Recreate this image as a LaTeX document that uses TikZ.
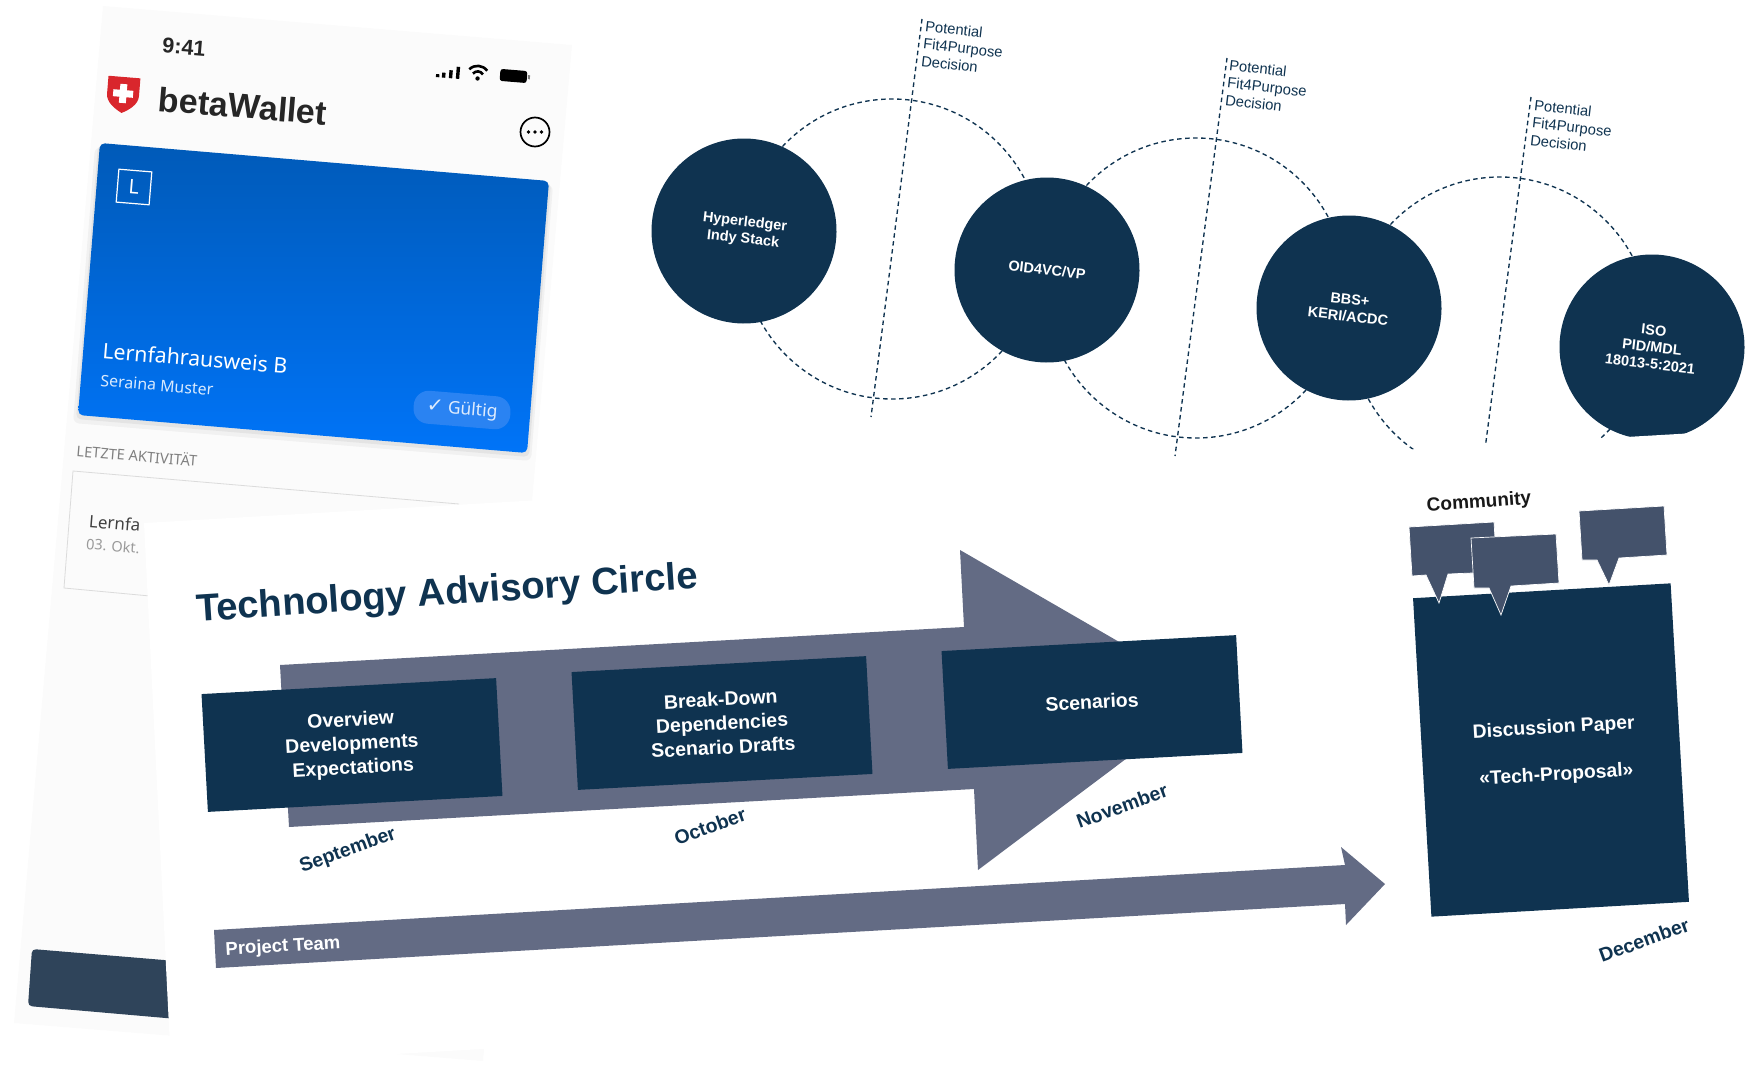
\documentclass[tikz,border=0pt]{standalone}
\usepackage{fontspec}
\usepackage{tikz}
\setmainfont{Liberation Sans}
\newfontfamily\phonefont{Noto Sans}
\newfontfamily\symbolfont{DejaVu Sans}
\usetikzlibrary{shapes,positioning}

\definecolor{tacnavy}{HTML}{0F3350}
\definecolor{tacgrey}{HTML}{636B84}
\definecolor{bubblegrey}{HTML}{44526B}
\definecolor{phonebg}{HTML}{FBFBFB}
\definecolor{buttonblue}{HTML}{2F445A}
\definecolor{cardtop}{HTML}{005AB8}
\definecolor{cardbottom}{HTML}{0074F8}
\definecolor{pillblue}{HTML}{2A83F2}
\definecolor{shieldred}{HTML}{D9262C}

\tikzset{
  stagecircle/.style={circle,fill=tacnavy,text=white,minimum size=185pt,inner sep=0pt,align=center,rotate=-6.5,font=\bfseries\fontsize{14.5}{17}\selectfont},
  fitline/.style={draw=tacnavy,line width=1.35pt,dash pattern=on 4.5pt off 3.5pt},
  fitlabel/.style={text=tacnavy,align=left,rotate=-6.5,inner sep=0pt,font=\fontsize{14.8}{17.6}\selectfont},
  phasebox/.style={fill=tacnavy,text=white,minimum width=295pt,minimum height=118pt,inner sep=0pt,align=center,rotate=3.1,font=\bfseries\fontsize{19.5}{24}\selectfont},
  monthlabel/.style={text=tacnavy,rotate=20,inner sep=0pt,font=\bfseries\fontsize{19.5}{23}\selectfont},
  phonetext/.style={rotate=-4.7,inner sep=0pt,font=\phonefont\fontsize{#1}{#1}\selectfont},
  phonebold/.style={rotate=-4.7,inner sep=0pt,font=\bfseries\fontsize{#1}{#1}\selectfont},
  bubble/.style={fill=bubblegrey,draw=white,line width=0.7pt}
}

\begin{document}
\begin{tikzpicture}[x=1pt,y=-1pt]
\useasboundingbox (0,0) rectangle (1747,1065);

\fill[phonebg] (103,6) -- (572,45) -- (483,1061) -- (14,1023) -- cycle;
\fill[black,opacity=0.04,rounded corners=6pt] (95,147) -- (553,185) -- (531,461) -- (73,423) -- cycle;
\fill[black,opacity=0.05,rounded corners=5pt] (98,145) -- (551,183) -- (529,457) -- (76,419) -- cycle;
\shade[top color=cardtop,bottom color=cardbottom,rounded corners=5pt] (100,143) -- (549,181) -- (527,453) -- (78,415) -- cycle;

\node[phonebold=21.5,text=black!85] (clock) at (184,47) {9:41};
\node[phonebold=34,text=black!85] (wallet) at (243,106) {betaWallet};

\begin{scope}[shift={(123,95)},rotate=-4.7]
\fill[shieldred] (-16,-18) -- (16,-18) -- (16,0) .. controls (16,8) and (8,14) .. (0,18) .. controls (-8,14) and (-16,8) .. (-16,0) -- cycle;
\fill[white] (-3.5,-11) rectangle (3.5,8);
\fill[white] (-10,-5) rectangle (10,2);
\end{scope}

\begin{scope}[shift={(448,72)},rotate=-4.7]
\draw[line width=3.4pt] (-10,6) -- (-10,3);
\draw[line width=3.4pt] (-4,6) -- (-4,1);
\draw[line width=3.4pt] (3,6) -- (3,-2);
\draw[line width=3.4pt] (10,6) -- (10,-6);
\end{scope}
\begin{scope}[shift={(478,73)},rotate=-4.7]
\draw[line width=2.6pt] (-9,-3) .. controls (-4,-8.5) and (4,-8.5) .. (9,-3);
\draw[line width=2.6pt] (-5,1) .. controls (-2,-2.5) and (2,-2.5) .. (5,1);
\fill (0,5.5) circle (2.2);
\end{scope}
\begin{scope}[shift={(514,76)},rotate=-4.7]
\fill[rounded corners=2.5pt] (-14,-6) rectangle (13,6);
\fill[black!50] (14,-2) rectangle (16,2);
\end{scope}

\node[circle,draw=black,line width=1.7pt,minimum size=29pt,inner sep=0pt] (menu) at (535,132) {};
\fill (menu.center) circle (1.8);
\fill ([xshift=-6.5pt]menu.center) circle (1.8);
\fill ([xshift=6.5pt]menu.center) circle (1.8);

\node[rectangle,draw=white,line width=1.2pt,minimum size=33pt,inner sep=0pt,rotate=-4.7,text=white,font=\phonefont\fontsize{20}{20}\selectfont] (licence) at (134,187) {L};
\node[phonetext=21.3,text=white] (cardname) at (195,358) {Lernfahrausweis B};
\node[phonetext=15.9,text=white!85!cardbottom] (holder) at (157,385) {Seraina Muster};
\node[rounded corners=15pt,fill=pillblue,minimum width=97pt,minimum height=33pt,rotate=-4.7,inner sep=0pt,text=white!85!pillblue,font=\phonefont\fontsize{17.5}{17.5}\selectfont] (valid) at (462,410) {{\symbolfont\fontsize{20}{20}\selectfont ✓} Gültig};

\node[phonetext=14.6,text=black!50] (activity) at (137,455) {LETZTE AKTIVITÄT};
\draw[draw=black!14,line width=0.8pt] (459,504) -- (73,471) -- (64,588) -- (150,596);
\node[phonetext=17,text=black!75,anchor=west] (entry) at (89,521) {Lernfa};
\node[phonetext=14.5,text=black!40] (entrydate) at (113,546) {03. Okt.};
\fill[buttonblue,rounded corners=4pt] (32,949) -- (200,963) -- (200,1021) -- (28,1006) -- cycle;

\coordinate (lineAtop) at (922,19);
\coordinate (lineAbot) at (871,417);
\coordinate (lineBtop) at (1227,58);
\coordinate (lineBbot) at (1175,456);
\coordinate (lineCtop) at (1531,97);
\coordinate (lineCbot) at (1479,495);
\draw[fitline] (892,249) circle (150);
\draw[fitline] (1196,288) circle (150);
\draw[fitline] (1500,327) circle (150);
\draw[fitline] (lineAtop) -- (lineAbot);
\draw[fitline] (lineBtop) -- (lineBbot);
\draw[fitline] (lineCtop) -- (lineCbot);

\node[fitlabel] (fitA) at (963,48) {Potential\\Fit4Purpose\\Decision};
\node[fitlabel] (fitB) at (1267,87) {Potential\\Fit4Purpose\\Decision};
\node[fitlabel] (fitC) at (1572,127) {Potential\\Fit4Purpose\\Decision};

\node[stagecircle] (indy) at (744,231) {Hyperledger\\Indy Stack};
\node[stagecircle] (oid) at (1047,270) {OID4VC/VP};
\node[stagecircle] (bbs) at (1349,308) {BBS+\\KERI/ACDC};
\node[stagecircle] (iso) at (1652,347) {ISO\\PID/MDL\\18013-5:2021};

\fill[white] (144,523) -- (1747,430) -- (1747,976) -- (171,1067) -- cycle;

\node[text=tacnavy,rotate=3.8,inner sep=0pt,font=\bfseries\fontsize{38.2}{42}\selectfont] (title) at (447,595) {Technology Advisory Circle};

\fill[tacgrey] (280,665) -- (964,627) -- (960,550) -- (1211,695) -- (978,870) -- (974,789) -- (289,827) -- cycle;
\node[phasebox] (overview) at (352,745) {Overview\\Developments\\Expectations};
\node[phasebox] (breakdown) at (722,723) {Break-Down\\Dependencies\\Scenario Drafts};
\node[phasebox] (scenarios) at (1092,702) {Scenarios};

\node[monthlabel] (sep) at (348,851) {September};
\node[monthlabel] (oct) at (710,826) {October};
\node[monthlabel] (nov) at (1122,806) {November};
\node[monthlabel] (dec) at (1644,940) {December};

\fill[tacgrey] (214,930) -- (1345,865) -- (1341,847) -- (1385,884) -- (1346,925) -- (1345,904) -- (216,968) -- cycle;
\node[text=white,rotate=3.3,inner sep=0pt,font=\bfseries\fontsize{18.5}{22}\selectfont] (team) at (283,947) {Project Team};

\node[fill=tacnavy,minimum width=258pt,minimum height=319pt,inner sep=0pt,rotate=3.3] (paper) at (1551,750) {};
\node[text=white,inner sep=0pt,align=center,rotate=3.3,font=\bfseries\fontsize{19.3}{24}\selectfont] (papertext) at (1555,752) {Discussion Paper\\[23pt]«Tech-Proposal»};

\fill[bubble] (1409,527) -- (1494,522) -- (1497,572) -- (1448,574) -- (1439,603) -- (1426,575) -- (1412,576) -- cycle;
\fill[bubble] (1471,538) -- (1556,534) -- (1559,583) -- (1511,586) -- (1501,615) -- (1489,588) -- (1474,588) -- cycle;
\fill[bubble] (1579,511) -- (1664,506) -- (1667,555) -- (1619,558) -- (1609,585) -- (1597,560) -- (1582,560) -- cycle;
\node[text=black!90,rotate=4,inner sep=0pt,font=\bfseries\fontsize{19}{23}\selectfont] (community) at (1479,503) {Community};
\end{tikzpicture}
\end{document}
